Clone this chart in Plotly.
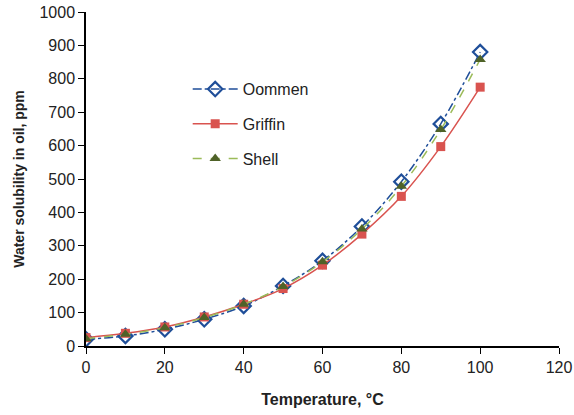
import plotly.graph_objects as go

temps = [0, 10, 20, 30, 40, 50, 60, 70, 80, 90, 100]
oommen = [20, 30, 50, 80, 120, 180, 255, 358, 492, 665, 880]
griffin = [25, 38, 57, 87, 125, 172, 242, 335, 448, 597, 775]
shell = [22, 35, 55, 85, 125, 178, 252, 350, 478, 648, 858]

fig = go.Figure()
fig.add_trace(go.Scatter(
    x=temps, y=oommen, name="Oommen", mode="lines+markers", legendgroup="a",
    line=dict(color="#1F4E99", width=1.5, dash="dashdot", shape="spline"),
    marker=dict(symbol="diamond-open", size=11, color="#1F4E99", line=dict(width=2.2, color="#1F4E99"))))
fig.add_trace(go.Scatter(
    x=temps, y=griffin, name="Griffin", mode="lines+markers", legendgroup="b",
    line=dict(color="#D9534F", width=1.5, shape="spline"),
    marker=dict(symbol="square", size=9, color="#D9534F")))
fig.add_trace(go.Scatter(
    x=temps, y=shell, name="Shell", mode="lines+markers", legendgroup="c",
    line=dict(color="#9BBB59", width=1.5, dash="dash", shape="spline"),
    marker=dict(symbol="triangle-up", size=10, color="#4F6228")))

font = "Liberation Sans, Arial, sans-serif"
fig.update_layout(
    width=574, height=415,
    margin=dict(l=86, r=15, t=12, b=69, autoexpand=False),
    paper_bgcolor="white", plot_bgcolor="white",
    font=dict(family=font, size=16, color="#222"),
    showlegend=True,
    legend=dict(x=0.215, y=0.82, xanchor="left", yanchor="top",
                bgcolor="rgba(0,0,0,0)", font=dict(size=16), itemwidth=45,
                traceorder="grouped", tracegroupgap=11),
    xaxis=dict(range=[0, 120], dtick=20, showgrid=False, zeroline=False,
               automargin=False,
               showline=True, linecolor="black", linewidth=1.5,
               ticks="outside", ticklen=6, tickcolor="black",
               title=dict(text="<b>Temperature, °C</b>", font=dict(size=16), standoff=19)),
    yaxis=dict(range=[0, 1000], dtick=100, showgrid=False, zeroline=False,
               automargin=False,
               showline=True, linecolor="black", linewidth=1.5,
               ticks="outside", ticklen=6, tickcolor="black",
               title=dict(text="<b>Water solubility in oil, ppm</b>", font=dict(size=14), standoff=12)),
)
fig.write_html("out.html", config={"displayModeBar": False},
               post_script="document.body.style.margin='0';")
